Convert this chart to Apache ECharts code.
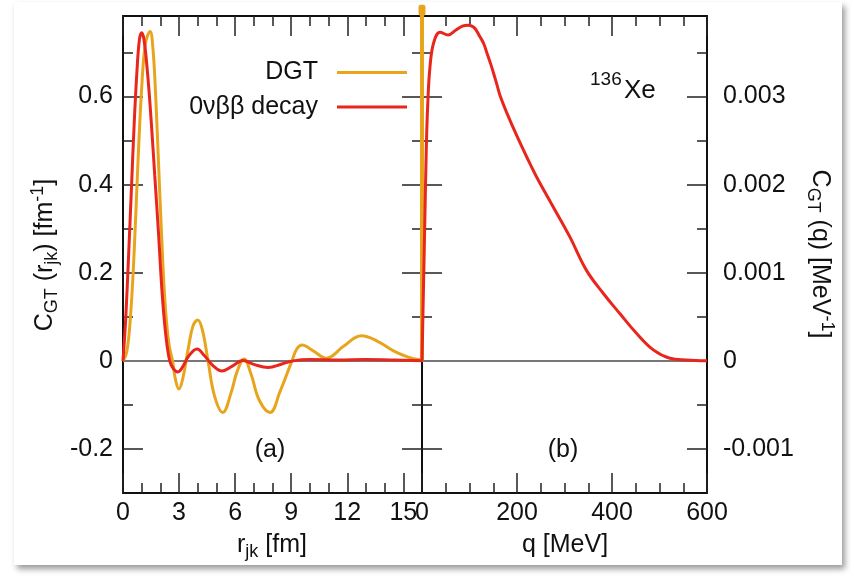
<!DOCTYPE html>
<html>
<head>
<meta charset="utf-8">
<script src="https://cdn.jsdelivr.net/npm/echarts@6/dist/echarts.min.js"></script>
<style>
html,body{margin:0;padding:0;background:#fff;}
#card{position:absolute;left:14px;top:2px;width:828px;height:563px;background:#fff;box-shadow:3px 4px 6px rgba(0,0,0,0.4);}
#main{position:absolute;left:0;top:0;width:854px;height:577px;}
</style>
</head>
<body>
<div id="card"></div>
<div id="main"></div>
<script>
// panel (a): C_GT(r_jk)
var r_dgt = [0,0.2,0.4,0.6,0.8,1.0,1.2,1.45,1.6,1.75,1.9,2.05,2.24,2.45,2.65,2.82,2.99,3.2,3.5,3.75,4.0,4.25,4.55,4.9,5.34,5.8,6.1,6.48,6.85,7.3,7.87,8.4,9.04,9.3,9.58,10.2,10.88,11.8,12.76,13.6,14.5,15.3,16]
var c_dgt = [0,0.02,0.1,0.25,0.45,0.62,0.72,0.748,0.71,0.6,0.45,0.3,0.138,0.04,0.0,-0.045,-0.064,-0.04,0.03,0.08,0.093,0.07,0.0,-0.08,-0.117,-0.07,-0.025,0.004,-0.03,-0.09,-0.117,-0.07,0.0,0.027,0.036,0.022,0.006,0.033,0.057,0.045,0.022,0.008,0.002]
var r_0v = [0,0.15,0.3,0.45,0.6,0.75,0.88,1.0,1.12,1.3,1.5,1.7,1.9,2.1,2.3,2.5,2.7,2.94,3.2,3.5,3.96,4.35,4.8,5.3,5.85,6.42,7.0,7.77,8.5,9.1,10,11.5,13,14.5,16]
var c_0v = [0,0.1,0.24,0.39,0.54,0.66,0.73,0.745,0.73,0.66,0.55,0.42,0.29,0.15,0.055,0.0,-0.018,-0.025,-0.013,0.01,0.027,0.012,-0.01,-0.023,-0.012,0.001,-0.008,-0.015,-0.007,0.0,0.003,0.002,0.003,0.002,0.0]

// panel (b): C_GT(q)
var q_0v = [0,3,6,9,12,17,25,38,55,70,85,97,105,112,122,130,137,144,151,158,165,179,200,220,241,276,311,346,381,416,452,487,522,557,600]
var cq_0v = [0,0.0008,0.0016,0.0024,0.0029,0.00335,0.00362,0.00373,0.0037,0.00375,0.0038,0.00381,0.0038,0.00377,0.00368,0.0036,0.00349,0.00338,0.00326,0.00313,0.003,0.00281,0.00255,0.00232,0.00209,0.00175,0.00141,0.00103,0.00077,0.00054,0.00031,0.000125,0.00003,0.00001,0]
var q_dgt = [0,0]
var cq_dgt = [0,0.00398]

// ticks
var rTicks = [0,3,6,9,12,15]
var rMinor = [1,2,4,5,7,8,10,11,13,14]
var qTicks = [0,200,400,600]
var qMinor = [50,100,150,250,300,350,450,500,550]
var yTicksL = [-0.2,0,0.2,0.4,0.6]
var yMinorL = [-0.1,0.1,0.3,0.5,0.7]
var yTicksR = [-0.001,0,0.001,0.002,0.003]
var yMinorR = [-0.0005,0.0005,0.0015,0.0025,0.0035]

var ORANGE = '#e9a41d'
var RED = '#e8261c'
var FONT = 'Liberation Sans'
var FS = 25

function zip(a,b){
	var out = []
	for(var i=0;i<a.length;i++) out.push([a[i],b[i]])
	return out
}

function ax(grid,pos,min,max,vals,len,label){
	return {
		type:'value', gridIndex:grid, position:pos, min:min, max:max,
		axisLine:{show:len>10, onZero:false, lineStyle:{color:'#111',width:2}},
		axisTick:{show:true, inside:true, length:len, customValues:vals, lineStyle:{color:'#222',width:1.5}},
		axisLabel: label ? Object.assign({customValues:vals, color:'#111', fontSize:FS, fontFamily:FONT,
			formatter:function(v){return String(v)}}, label) : {show:false},
		splitLine:{show:false}
	}
}

var rich = {
	m:{fontSize:FS,fontFamily:FONT,lineHeight:32,verticalAlign:'middle'},
	s:{fontSize:18,fontFamily:FONT,lineHeight:18,verticalAlign:'bottom'},
	p:{fontSize:18,fontFamily:FONT,lineHeight:18,verticalAlign:'top'}
}

var chart = echarts.init(document.getElementById('main'))

var option = {
	animation:false,
	grid:[
		{left:123, top:16, width:299, height:477},
		{left:422, top:16, width:285, height:477}
	],
	xAxis:[
		ax(0,'bottom',0,16,rTicks,20,{margin:8}),
		ax(0,'bottom',0,16,rMinor,10),
		ax(0,'top',0,16,rTicks,20),
		ax(0,'top',0,16,rMinor,10),
		ax(1,'bottom',0,600,qTicks,20,{margin:8}),
		ax(1,'bottom',0,600,qMinor,10),
		ax(1,'top',0,600,qTicks,20),
		ax(1,'top',0,600,qMinor,10)
	],
	yAxis:[
		ax(0,'left',-0.3,0.783,yTicksL,20,{margin:10}),
		ax(0,'left',-0.3,0.783,yMinorL,10),
		ax(0,'right',-0.3,0.783,yTicksL,20),
		ax(0,'right',-0.3,0.783,yMinorL,10),
		ax(1,'left',-0.0015,0.003915,yTicksR,20),
		ax(1,'left',-0.0015,0.003915,yMinorR,10),
		ax(1,'right',-0.0015,0.003915,yTicksR,20,{margin:16}),
		ax(1,'right',-0.0015,0.003915,yMinorR,10)
	],
	legend:{
		data:['DGT','0νββ decay'],
		orient:'vertical', align:'right', right:447, top:60, padding:0,
		itemWidth:70, itemHeight:3, itemGap:9.6, icon:'rect',
		itemStyle:{borderWidth:0},
		textStyle:{fontSize:FS, fontFamily:FONT, color:'#111', lineHeight:25, padding:[0,14,0,0]}
	},
	series:[
		{
			name:'DGT', type:'line', xAxisIndex:0, yAxisIndex:0, z:2,
			data:zip(r_dgt,c_dgt), smooth:0.4, showSymbol:false,
			lineStyle:{color:ORANGE,width:3}, itemStyle:{color:ORANGE},
			markLine:{silent:true, z:1, symbol:['none','none'], label:{show:false},
				lineStyle:{color:'#777',width:2,type:'solid'}, data:[{yAxis:0}]}
		},
		{
			name:'0νββ decay', type:'line', xAxisIndex:0, yAxisIndex:0, z:3,
			data:zip(r_0v,c_0v), smooth:0.4, showSymbol:false,
			lineStyle:{color:RED,width:3}, itemStyle:{color:RED}
		},
		{
			name:'DGT', type:'line', xAxisIndex:4, yAxisIndex:4, z:2, clip:false,
			data:[{value:[q_dgt[0],cq_dgt[0]],symbol:'none'},
				{value:[q_dgt[1],cq_dgt[1]],symbol:'roundRect',symbolSize:[7,11]}],
			showSymbol:true, symbol:'none',
			lineStyle:{color:ORANGE,width:4}, itemStyle:{color:ORANGE},
			markLine:{silent:true, z:1, symbol:['none','none'], label:{show:false},
				lineStyle:{color:'#777',width:2,type:'solid'}, data:[{yAxis:0}]}
		},
		{
			name:'0νββ decay', type:'line', xAxisIndex:4, yAxisIndex:4, z:3,
			data:zip(q_0v,cq_0v), smooth:0.4, showSymbol:false,
			lineStyle:{color:RED,width:3}, itemStyle:{color:RED}
		}
	],
	graphic:[
		{type:'text', x:270, y:450, style:{text:'(a)', fontSize:FS, fontFamily:FONT, fill:'#111', align:'center', verticalAlign:'middle'}},
		{type:'text', x:563, y:450, style:{text:'(b)', fontSize:FS, fontFamily:FONT, fill:'#111', align:'center', verticalAlign:'middle'}},
		{type:'text', x:590, y:80, style:{text:'136', fontSize:19, fontFamily:FONT, fill:'#111', align:'left', verticalAlign:'middle'}},
		{type:'text', x:624, y:91, style:{text:'Xe', fontSize:26, fontFamily:FONT, fill:'#111', align:'left', verticalAlign:'middle'}},
		{type:'text', x:272, y:545, style:{text:'{m|r}{s|jk}{m| [fm]}', fill:'#111', align:'center', verticalAlign:'middle', rich:rich}},
		{type:'text', x:565, y:545, style:{text:'q [MeV]', fontSize:FS, fontFamily:FONT, fill:'#111', align:'center', verticalAlign:'middle'}},
		{type:'text', x:45, y:255, rotation:Math.PI/2, style:{
			text:'{m|C}{s|GT}{m| (r}{s|jk}{m|) [fm}{p|-1}{m|]}', fill:'#111', align:'center', verticalAlign:'middle', rich:rich}},
		{type:'text', x:820, y:254, rotation:-Math.PI/2, style:{
			text:'{m|C}{s|GT}{m| (q) [MeV}{p|-1}{m|]}', fill:'#111', align:'center', verticalAlign:'middle', rich:rich}}
	]
}

chart.setOption(option)
</script>
</body>
</html>
